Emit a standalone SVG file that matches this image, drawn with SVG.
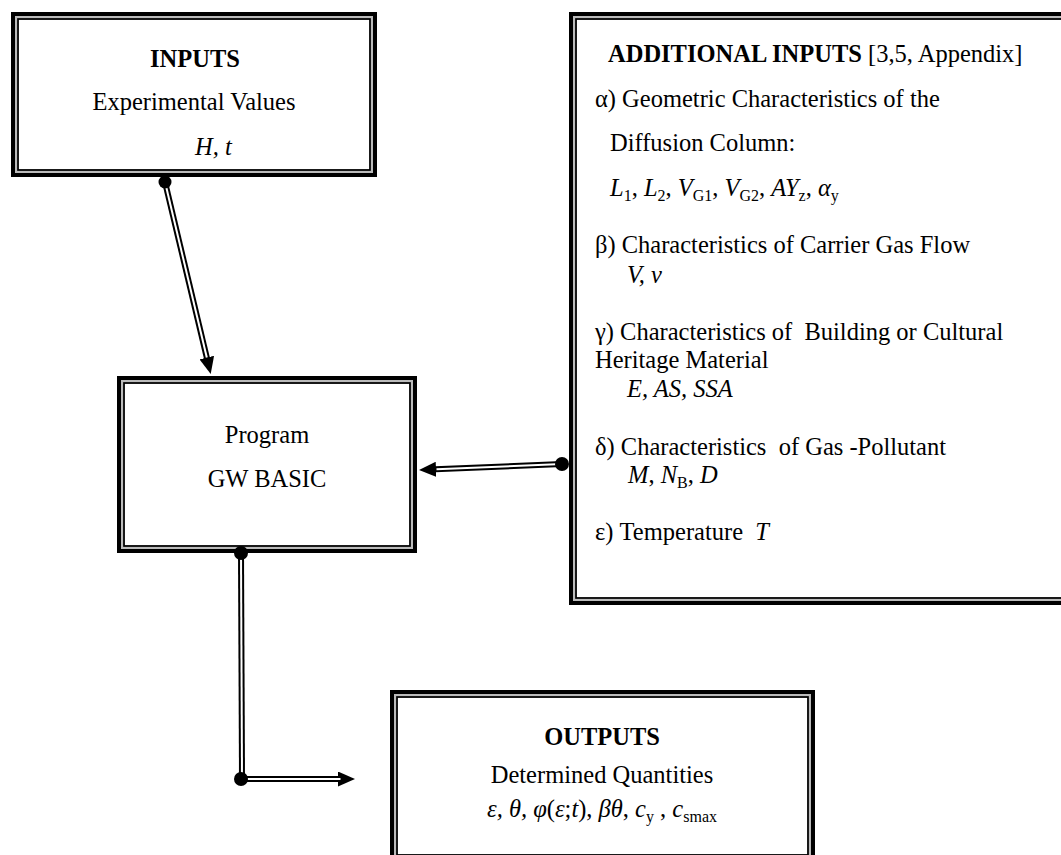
<svg xmlns="http://www.w3.org/2000/svg" width="1061" height="855" viewBox="0 0 1061 855">
<style>
.f{font-family:"Liberation Serif","Times New Roman",serif;font-size:24.5px;fill:#000}
.b{font-weight:bold}
.i{font-style:italic}
.s{font-size:16px;font-style:normal}
.o{fill:none;stroke:#000;stroke-width:4}
.g{fill:none;stroke:#bbb;stroke-width:2}
.n{fill:none;stroke:#000;stroke-width:1.8}
.cb{fill:none;stroke:#000;stroke-width:6}
.cw{fill:none;stroke:#fff;stroke-width:2}
</style>
<defs>
<marker id="ah" markerUnits="userSpaceOnUse" markerWidth="17" markerHeight="15" viewBox="0 0 17 15" refX="1" refY="7.5" orient="auto">
<path d="M0,0 L17,7.5 L0,15 z" fill="#000"/>
</marker>
</defs>
<rect x="0" y="0" width="1061" height="855" fill="#fff"/>

<g id="inputs">
<rect class="o" x="13" y="14" width="362" height="161"/>
<rect class="g" x="16" y="17" width="356" height="155"/>
<rect class="n" x="18" y="19" width="352" height="151"/>
<text class="f b" x="195" y="67" text-anchor="middle">INPUTS</text>
<text class="f" x="194" y="110" text-anchor="middle">Experimental Values</text>
<text class="f i" x="195" y="155">H, t</text>
</g>

<g id="additional-inputs">
<rect class="o" x="571" y="14" width="502" height="589"/>
<rect class="g" x="574" y="17" width="496" height="583"/>
<rect class="n" x="576" y="19" width="492" height="579"/>
<text class="f" x="608" y="62"><tspan class="b">ADDITIONAL INPUTS</tspan> [3,5, Appendix]</text>
<text class="f" x="595" y="107">α) Geometric Characteristics of the</text>
<text class="f" x="610" y="151">Diffusion Column:</text>
<text class="f" x="610" y="196"><tspan class="i">L</tspan><tspan class="s" dy="5">1</tspan><tspan dy="-5">, </tspan><tspan class="i">L</tspan><tspan class="s" dy="5">2</tspan><tspan dy="-5">, </tspan><tspan class="i">V</tspan><tspan class="s" dy="5">G1</tspan><tspan dy="-5">, </tspan><tspan class="i">V</tspan><tspan class="s" dy="5">G2</tspan><tspan dy="-5">, </tspan><tspan class="i">AY</tspan><tspan class="s" dy="5">z</tspan><tspan dy="-5">, </tspan><tspan class="i">α</tspan><tspan class="s" dy="5">y</tspan></text>
<text class="f" x="595" y="253">β) Characteristics of Carrier Gas Flow</text>
<text class="f i" x="627" y="283">V, v</text>
<text class="f" x="595" y="340" xml:space="preserve">γ) Characteristics of  Building or Cultural</text>
<text class="f" x="595" y="368">Heritage Material</text>
<text class="f i" x="627" y="397">E, AS, SSA</text>
<text class="f" x="595" y="455" xml:space="preserve">δ) Characteristics  of Gas -Pollutant</text>
<text class="f" x="628" y="483"><tspan class="i">M</tspan>, <tspan class="i">N</tspan><tspan class="s" dy="5">B</tspan><tspan dy="-5">, </tspan><tspan class="i">D</tspan></text>
<text class="f" x="595" y="540" xml:space="preserve">ε) Temperature  <tspan class="i">T</tspan></text>
</g>

<g id="program">
<rect class="o" x="119" y="378" width="296" height="173"/>
<rect class="g" x="122" y="381" width="290" height="167"/>
<rect class="n" x="124" y="383" width="286" height="163"/>
<text class="f" x="267" y="443" text-anchor="middle">Program</text>
<text class="f" x="267" y="487" text-anchor="middle">GW BASIC</text>
</g>

<g id="outputs">
<rect class="o" x="392" y="692" width="421" height="168"/>
<rect class="g" x="395" y="695" width="415" height="162"/>
<rect class="n" x="397" y="697" width="411" height="158"/>
<text class="f b" x="602" y="745" text-anchor="middle">OUTPUTS</text>
<text class="f" x="602" y="783" text-anchor="middle">Determined Quantities</text>
<text class="f" x="602" y="817" text-anchor="middle"><tspan class="i">ε, θ, φ</tspan>(<tspan class="i">ε</tspan>;<tspan class="i">t</tspan>), <tspan class="i">βθ</tspan>, <tspan class="i">c</tspan><tspan class="s" dy="5">y</tspan><tspan dy="-5"> , </tspan><tspan class="i">c</tspan><tspan class="s" dy="5">smax</tspan></text>
</g>

<g id="connectors">
<path class="cb" d="M165,182 L207,358.5" marker-end="url(#ah)"/>
<path class="cw" d="M165,182 L206.8,357.5"/>
<path class="cb" d="M562,464 L435,469.3" marker-end="url(#ah)"/>
<path class="cw" d="M562,464 L436.5,469.25"/>
<path class="cb" d="M241,553 L242,778"/>
<path class="cw" d="M241,553 L242,778"/>
<path class="cb" d="M241,779 L339,779" marker-end="url(#ah)"/>
<path class="cw" d="M241,779 L340.5,779"/>
<circle cx="165" cy="182" r="6.5" fill="#000"/>
<circle cx="562" cy="464" r="7" fill="#000"/>
<circle cx="241" cy="553" r="7" fill="#000"/>
<circle cx="241" cy="779" r="7" fill="#000"/>
</g>
</svg>
